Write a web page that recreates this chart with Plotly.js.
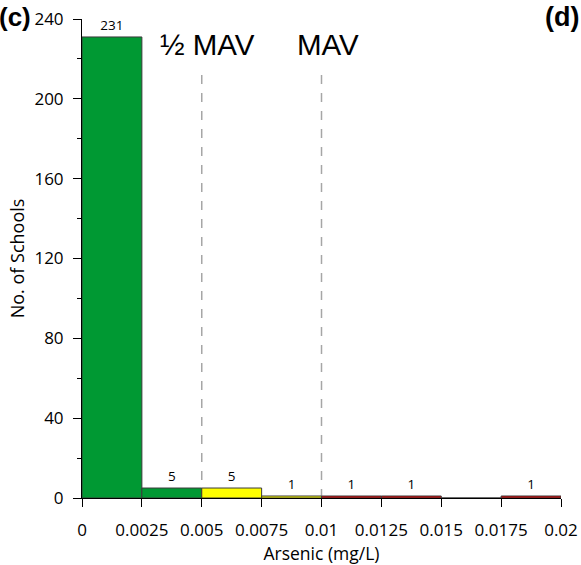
<!DOCTYPE html>
<html><head><meta charset="utf-8">
<script src="https://cdn.plot.ly/plotly-3.0.1.min.js"></script>
<style>html,body{margin:0;padding:0;background:#fff}#chart{width:581px;height:565px}</style>
</head><body><div id="chart"></div>
<script>
const binStarts = [0, 0.0025, 0.005, 0.0075, 0.01, 0.0125, 0.015, 0.0175];
const binWidth = 0.0025;
const counts = [231, 5, 5, 1, 1, 1, 0, 1];
const binColors = ['#009933', '#009933', '#ffff00', '#ffff00', '#e00000', '#e00000', '#e00000', '#e00000'];
const xTicks = [0, 0.0025, 0.005, 0.0075, 0.01, 0.0125, 0.015, 0.0175, 0.02];
const xTickLabels = ['0', '0.0025', '0.005', '0.0075', '0.01', '0.0125', '0.015', '0.0175', '0.02'];
const yTicks = [0, 40, 80, 120, 160, 200, 240];
const guideX = [0.005, 0.01];
const guideLabels = ['½ MAV', 'MAV'];
const guideTop = 213;

const centers = binStarts.map(s => s + binWidth / 2);
const labels = counts.map(c => c > 0 ? String(c) : '');

const trace = {
  type: 'bar', x: centers, y: counts, width: binStarts.map(() => binWidth),
  marker: {color: binColors, line: {color: '#3a3a3a', width: 1}},
  text: labels, textposition: 'outside', cliponaxis: false,
  textfont: {family: 'Open Sans, sans-serif', size: 13.5, color: '#000'},
  hoverinfo: 'none'
};

const shapes = guideX.map(x => ({
  type: 'line', xref: 'x', yref: 'y', x0: x, x1: x, y0: 0, y1: guideTop,
  line: {color: '#a6a6a6', width: 1.5, dash: 'dash'}, layer: 'below'
}));

const annotations = guideX.map((x, i) => ({
  xref: 'x', yref: 'paper', x: x, y: 0.985, yanchor: 'top', xanchor: 'center', xshift: 6,
  text: guideLabels[i], showarrow: false,
  font: {family: 'Liberation Sans, Arial, sans-serif', size: 29.5, color: '#000'}
}));
annotations.push({xref: 'paper', yref: 'paper', x: -0.177, y: 1.04, xanchor: 'left', yanchor: 'top',
  text: '<b>(c)</b>', showarrow: false, font: {family: 'Liberation Sans, Arial, sans-serif', size: 26, color: '#000'}});
annotations.push({xref: 'paper', yref: 'paper', x: 1.042, y: 1.04, xanchor: 'right', yanchor: 'top',
  text: '<b>(d)</b>', showarrow: false, font: {family: 'Liberation Sans, Arial, sans-serif', size: 27, color: '#000'}});

const layout = {
  width: 581, height: 565,
  margin: {l: 82, r: 20, t: 19, b: 67},
  paper_bgcolor: '#fff', plot_bgcolor: '#fff',
  showlegend: false, bargap: 0,
  font: {family: 'Open Sans, sans-serif', color: '#000'},
  xaxis: {
    range: [0, 0.02], tickvals: xTicks, ticktext: xTickLabels,
    showgrid: false, zeroline: false, showline: true, linecolor: '#000', linewidth: 1,
    ticks: 'outside', ticklen: 8, tickcolor: '#000', tickfont: {size: 17}, ticklabelstandoff: 9,
    title: {text: 'Arsenic (mg/L)', font: {size: 17.5}, standoff: 7}
  },
  yaxis: {
    range: [0, 240], tickvals: yTicks,
    showgrid: false, zeroline: false, showline: true, linecolor: '#000', linewidth: 1,
    ticks: 'outside', ticklen: 8, tickcolor: '#000', tickfont: {size: 17}, ticklabelstandoff: 6,
    minor: {dtick: 20, ticks: 'outside', ticklen: 4, tickcolor: '#000', showgrid: false},
    title: {text: 'No. of Schools', font: {size: 18}, standoff: 5}
  },
  shapes: shapes, annotations: annotations
};

Plotly.newPlot('chart', [trace], layout, {displayModeBar: false, staticPlot: true});
</script></body></html>
